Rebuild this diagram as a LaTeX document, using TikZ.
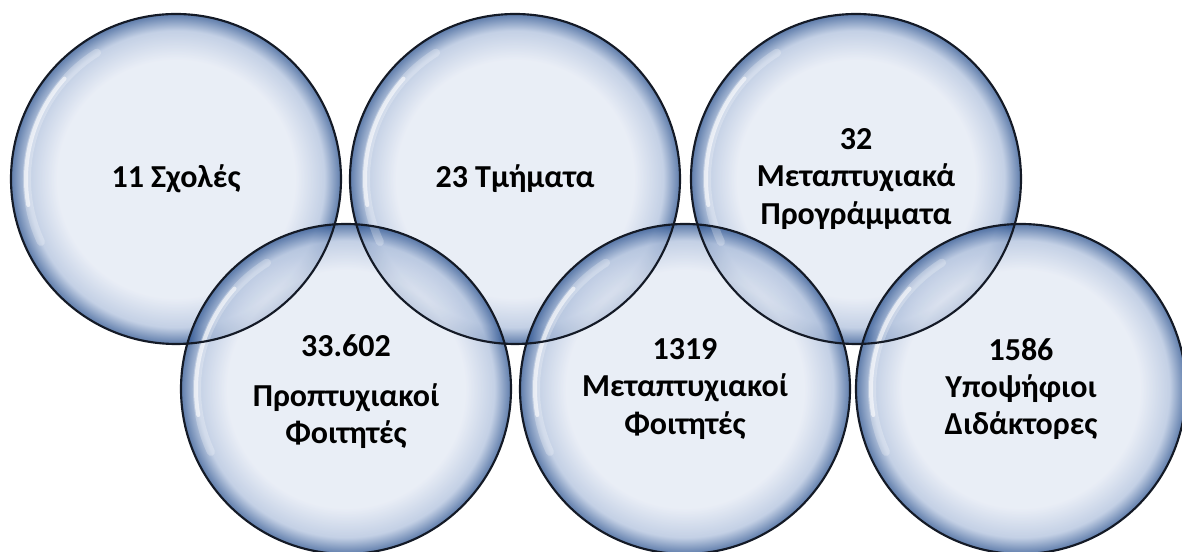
\documentclass[tikz,border=0pt]{standalone}
\usepackage{fontspec}
\setmainfont{Carlito}
\usepackage{tikz}
\definecolor{bubin}{RGB}{226,232,243}
\definecolor{bubmid}{RGB}{175,192,220}
\definecolor{bubedge}{RGB}{40,80,142}
\definecolor{bubline}{RGB}{20,26,38}
\pgfdeclareradialshading{bubshade}{\pgfpointorigin}{color(0bp)=(bubin); color(18bp)=(bubin); color(22.5bp)=(bubmid); color(25bp)=(bubedge); color(50bp)=(bubedge)}
\tikzset{
	bubble/.style={shading=bubshade, fill opacity=0.75},
	rim/.style={line width=1.6pt, color=bubline},
	shine/.style={white, line width=3pt, line cap=round},
	bubtext/.style={font=\bfseries\fontsize{24}{28}\selectfont, align=center, text=black}
}

\begin{document}
\begin{tikzpicture}[x=0.75pt, y=0.75pt]
		%%%%% START %%%%%
		
		\useasboundingbox (0, 0) rectangle (1182, 552);
		
		\coordinate (sch) at (176, 373);
		\coordinate (tmi) at (515, 373);
		\coordinate (pms) at (856, 373);
		\coordinate (prp) at (346, 163);
		\coordinate (met) at (685, 163);
		\coordinate (ypd) at (1021, 163);
		
		\foreach \n in {sch, tmi, pms, prp, met, ypd}
			\shade[bubble] (\n) circle (165);
		
		\foreach \n in {sch, tmi, pms, prp, met, ypd} {
			\draw[shine, opacity=0.25, line width=6pt] ([shift={(122:149)}]\n) arc (122:205:149);
			\draw[shine, opacity=0.6] ([shift={(138:150)}]\n) arc (138:190:150);
		}
		
		\foreach \n in {sch, tmi, pms, prp, met, ypd}
			\draw[rim] (\n) circle (165);
		
		\node[bubtext] (t-sch) at (sch) {11 Σχολές};
		\node[bubtext] (t-tmi) at (tmi) {23 Τμήματα};
		\node[bubtext] (t-pms) at (pms) {32\\Μεταπτυχιακά\\Προγράμματα};
		\node[bubtext] (t-prp) at ([yshift=-2]prp) {33.602\\[9pt]Προπτυχιακοί\\Φοιτητές};
		\node[bubtext] (t-met) at (met) {1319\\Μεταπτυχιακοί\\Φοιτητές};
		\node[bubtext] (t-ypd) at (ypd) {1586\\Υποψήφιοι\\Διδάκτορες};
		
		%%%%% END %%%%%
	\end{tikzpicture}
\end{document}
